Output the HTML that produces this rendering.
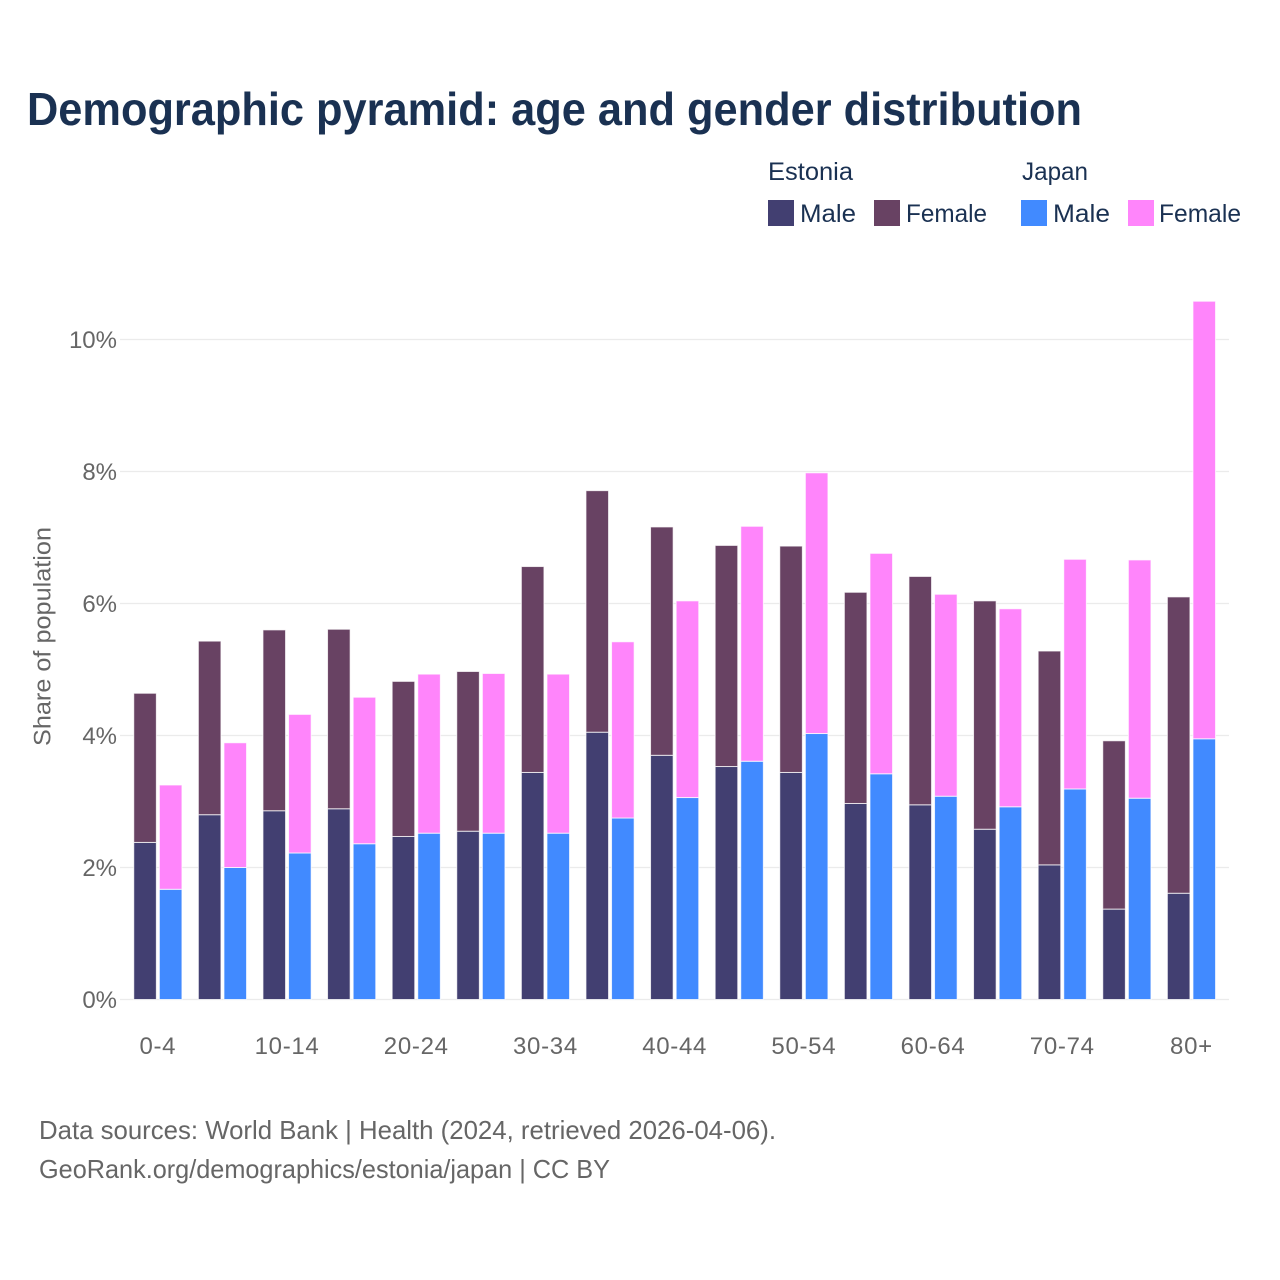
<!DOCTYPE html>
<html lang="en">
<head>
<meta charset="utf-8">
<title>Demographic pyramid: age and gender distribution</title>
<style>
html,body{margin:0;padding:0;background:#fff;width:1280px;height:1280px;overflow:hidden}
svg{display:block}
text{font-family:"Liberation Sans",sans-serif}
</style>
</head>
<body>
<svg id="chart" xmlns="http://www.w3.org/2000/svg" width="1280" height="1280" viewBox="0 0 1280 1280">
  <rect x="0" y="0" width="1280" height="1280" fill="#ffffff"/>
  <text x="27" y="125" font-size="46" font-weight="700" fill="#1a3152" textLength="1055" lengthAdjust="spacingAndGlyphs">Demographic pyramid: age and gender distribution</text>

  <g font-size="25" fill="#1a3152">
    <text x="768" y="180" textLength="85" lengthAdjust="spacingAndGlyphs">Estonia</text>
    <text x="1022" y="180" textLength="66" lengthAdjust="spacingAndGlyphs">Japan</text>
    <rect x="768" y="200" width="26" height="26" fill="#423f71"/>
    <text x="800" y="222" textLength="56" lengthAdjust="spacingAndGlyphs">Male</text>
    <rect x="874" y="200" width="26" height="26" fill="#684263"/>
    <text x="906" y="222" textLength="81" lengthAdjust="spacingAndGlyphs">Female</text>
    <rect x="1021" y="200" width="26" height="26" fill="#418aff"/>
    <text x="1053" y="222" textLength="57" lengthAdjust="spacingAndGlyphs">Male</text>
    <rect x="1128" y="200" width="26" height="26" fill="#ff85fb"/>
    <text x="1159" y="222" textLength="82" lengthAdjust="spacingAndGlyphs">Female</text>
  </g>

  <g id="grid"></g>
  <g id="y-ticks" font-size="24" fill="#666666" text-anchor="end"></g>
  <g id="bars"></g>
  <g id="x-ticks" font-size="24" fill="#666666" text-anchor="middle" letter-spacing="0.7"></g>

  <text transform="translate(50.5,746) rotate(-90)" font-size="24" fill="#666666" textLength="219" lengthAdjust="spacingAndGlyphs">Share of population</text>

  <g font-size="26" fill="#666666">
    <text x="39" y="1139" textLength="737" lengthAdjust="spacingAndGlyphs">Data sources: World Bank | Health (2024, retrieved 2026-04-06).</text>
    <text x="39" y="1178" textLength="571" lengthAdjust="spacingAndGlyphs">GeoRank.org/demographics/estonia/japan | CC BY</text>
  </g>
</svg>
<script>
const ageGroups = ['0-4','5-9','10-14','15-19','20-24','25-29','30-34','35-39','40-44','45-49','50-54','55-59','60-64','65-69','70-74','75-79','80+'];
const xTickLabels = ['0-4','10-14','20-24','30-34','40-44','50-54','60-64','70-74','80+'];
const yTickValues = [0,2,4,6,8,10];
const estoniaMale = [2.38,2.80,2.86,2.89,2.47,2.55,3.44,4.05,3.70,3.53,3.44,2.97,2.95,2.58,2.04,1.37,1.61];
const estoniaFemale = [2.26,2.63,2.74,2.72,2.35,2.42,3.12,3.66,3.46,3.35,3.43,3.20,3.46,3.46,3.24,2.55,4.49];
const japanMale = [1.67,2.00,2.22,2.36,2.52,2.52,2.52,2.75,3.06,3.61,4.03,3.42,3.08,2.92,3.19,3.05,3.95];
const japanFemale = [1.58,1.89,2.10,2.22,2.41,2.42,2.41,2.67,2.98,3.56,3.95,3.34,3.06,3.00,3.48,3.61,6.63];

const NS = 'http://www.w3.org/2000/svg';
const yScale = v => 999.5 - v * 66;
const xScale = i => 157.85 + i * 64.6;
const BAR_W = 22.6;
const BAR_GAP = 1.5;

function drawSegment(parent, x, base, value, fill) {
  const rect = document.createElementNS(NS, 'rect');
  rect.setAttribute('x', x);
  rect.setAttribute('y', yScale(base + value));
  rect.setAttribute('width', BAR_W);
  rect.setAttribute('height', yScale(base) - yScale(base + value));
  rect.setAttribute('fill', fill);
  rect.setAttribute('stroke', '#ffffff');
  rect.setAttribute('stroke-width', '1');
  rect.setAttribute('stroke-opacity', '0.75');
  parent.appendChild(rect);
  return rect;
}

const grid = document.getElementById('grid');
const yTicks = document.getElementById('y-ticks');
yTickValues.forEach(v => {
  const line = document.createElementNS(NS, 'line');
  
  
  line.setAttribute('x1', 120);
  line.setAttribute('x2', 1229);
  line.setAttribute('y1', yScale(v));
  line.setAttribute('y2', yScale(v));
  line.setAttribute('stroke', '#ebebeb');
  line.setAttribute('stroke-width', '1.3');
  grid.appendChild(line);
  const label = document.createElementNS(NS, 'text');
  
  
  label.setAttribute('x', 117);
  label.setAttribute('y', yScale(v) + 8.5);
  label.textContent = v + '%';
  yTicks.appendChild(label);
});

const bars = document.getElementById('bars');
ageGroups.forEach((age, i) => {
  const cx = xScale(i);
  const xLeft = cx - BAR_GAP - BAR_W;
  const xRight = cx + BAR_GAP;

  const em = drawSegment(bars, xLeft, 0, estoniaMale[i], '#423f71');
  
  

  const ef = drawSegment(bars, xLeft, estoniaMale[i], estoniaFemale[i], '#684263');
  
  

  const jm = drawSegment(bars, xRight, 0, japanMale[i], '#418aff');
  
  

  const jf = drawSegment(bars, xRight, japanMale[i], japanFemale[i], '#ff85fb');
  
  
});

const xTicks = document.getElementById('x-ticks');
xTickLabels.forEach(name => {
  const label = document.createElementNS(NS, 'text');
  
  
  label.setAttribute('x', xScale(ageGroups.indexOf(name)));
  label.setAttribute('y', 1054);
  label.textContent = name;
  xTicks.appendChild(label);
});
</script>
</body>
</html>
